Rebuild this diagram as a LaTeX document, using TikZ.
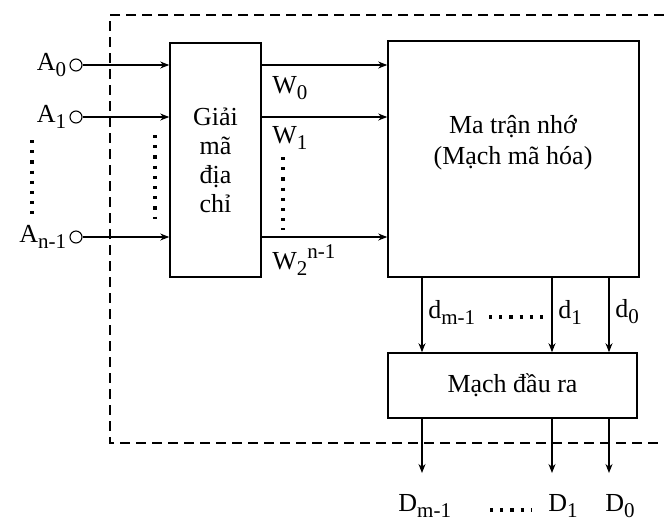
\documentclass[tikz,border=0pt]{standalone}
\usepackage{fontspec}
\setmainfont{Liberation Serif}
\usetikzlibrary{positioning,arrows.meta}
% Chỉ số dưới cỡ lớn như hình gốc
\newcommand{\chiso}[1]{\raisebox{-0.5ex}{\fontsize{10.5}{12}\selectfont #1}}
\newcommand{\somu}[1]{\raisebox{0.9ex}{\fontsize{10.5}{12}\selectfont #1}}

\begin{document}
\begin{tikzpicture}[x=0.5pt, y=-0.5pt, >={Stealth[length=4.5pt, width=3.5pt]},
	khoi/.style={draw, line width=0.8pt, inner sep=0pt},
	day/.style={line width=0.55pt},
	cham/.style={line width=1.6pt, dash pattern=on 1.6pt off 3.5pt},
	nhan/.style={font=\fontsize{13}{15}\selectfont, inner sep=1pt},
	chan/.style={circle, draw, line width=0.55pt, minimum size=6pt, inner sep=0pt}]
	\useasboundingbox (0,0) rectangle (664,521);
	% Khung nét đứt bao quanh bộ nhớ
	\draw[line width=0.8pt, dash pattern=on 5pt off 3pt] (664,15) -- (110,15) -- (110,443) -- (664,443);
	% Các khối chính
	\node[khoi, minimum width=45.5pt, minimum height=117pt, align=center,
		font=\fontsize{13}{14.5}\selectfont] (giaima) at (215.5,160) {Giải\\mã\\địa\\chỉ};
	\node[khoi, minimum width=125.5pt, minimum height=118pt] (matran) at (513.5,159) {};
	\node[nhan, align=center, font=\fontsize{13}{15.5}\selectfont] (tenmt) at (513,143) {Ma trận nhớ\\(Mạch mã hóa)};
	\node[khoi, minimum width=124.5pt, minimum height=32.5pt, font=\fontsize{13}{15}\selectfont] (daura) at (512.5,385.5) {Mạch đầu ra};
	% Các lối vào địa chỉ và các đường từ
	\foreach \y/\ten/\chu/\w/\wy in {65/a0/A\chiso{0}/W\chiso{0}/88,
		117/a1/A\chiso{1}/W\chiso{1}/138,
		237/an/A\chiso{n-1}/W\chiso{2}\somu{n-1}/260} {
		\node[chan] (\ten) at (76,\y) {};
		\node[nhan, left=0.5pt of \ten] (l\ten) {\chu};
		\draw[day, ->] (\ten.east) -- (\ten -| giaima.west);
		\draw[day, ->] (\ten -| giaima.east) -- (\ten -| matran.west);
		\node[nhan, anchor=west] (w\ten) at (270,\wy) {\w};
	}
	% Các chấm dọc
	\draw[cham] (32,140) -- (32,214);
	\draw[cham] (155,135) -- (155,219);
	\draw[cham] (283,157) -- (283,230);
	% Các đường dữ liệu ra
	\foreach \x/\ten/\chd/\chD/\dx in {422/dm/d\chiso{m-1}/D\chiso{m-1}/-26,
		552/d1/d\chiso{1}/D\chiso{1}/-6,
		609/d0/d\chiso{0}/D\chiso{0}/-6} {
		\coordinate (\ten) at (\x,473);
		\draw[day, ->] (\ten |- matran.south) -- (\ten |- daura.north);
		\draw[day, ->] (\ten |- daura.south) -- (\ten);
		\node[nhan, anchor=west] (l\ten) at (\x+4,312) {\chd};
		\node[nhan, anchor=west] (L\ten) at (\x+\dx,506) {\chD};
	}
	% Các chấm ngang
	\draw[cham] (489,317) -- (545,317);
	\draw[cham] (490,510) -- (532,510);
\end{tikzpicture}
\end{document}
